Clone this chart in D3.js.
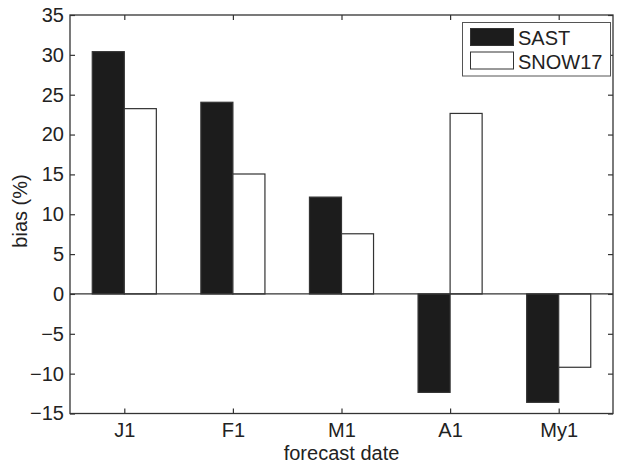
<!DOCTYPE html>
<html><head><meta charset="utf-8">
<script src="https://cdn.jsdelivr.net/npm/d3@7"></script>
<style>body{margin:0;background:#fff;} svg{display:block;} text{font-family:"Liberation Sans",Arial,sans-serif;fill:#222;}</style>
</head><body><svg id="c" width="621" height="463"></svg>
<script>
const categories = ["J1","F1","M1","A1","My1"];
const seriesNames = ["SAST","SNOW17"];
const sast = [30.4, 24.05, 12.15, -12.35, -13.6];
const snow17 = [23.25, 15.05, 7.55, 22.65, -9.2];
const yTicks = [-15,-10,-5,0,5,10,15,20,25,30,35];

const svg = d3.select("#c");
const L=70, R=613, T=15, B=413.5;
const axisColor="#333";
const FS="20px";
const x = d3.scaleLinear().domain([0.5,5.5]).range([L,R]);
const y = d3.scaleLinear().domain([-15,35]).range([B,T]);
const bw = 0.295;

const series=[{name:seriesNames[0],vals:sast,fill:"#1c1c1c",off:-bw},{name:seriesNames[1],vals:snow17,fill:"#fff",off:0}];
const g = svg.append("g");
series.forEach(s=>{
  g.selectAll(null).data(s.vals).enter().append("rect")
   .attr("x",(d,i)=>x(i+1+s.off))
   .attr("width",x(1+bw)-x(1))
   .attr("y",d=>y(Math.max(0,d)))
   .attr("height",d=>Math.abs(y(d)-y(0)))
   .attr("fill",s.fill).attr("stroke",axisColor).attr("stroke-width",1.2);
});
svg.append("line").attr("x1",L).attr("x2",R).attr("y1",y(0)).attr("y2",y(0)).attr("stroke",axisColor).attr("stroke-width",1.2);

const yAxisL = d3.axisLeft(y).tickValues(yTicks).tickSize(-5).tickPadding(6);
const yAxisR = d3.axisRight(y).tickValues(yTicks).tickSize(-5).tickFormat("");
const xAxisB = d3.axisBottom(x).tickValues([1,2,3,4,5]).tickFormat((d)=>categories[d-1]).tickSize(-5).tickPadding(9);
const xAxisT = d3.axisTop(x).tickValues([1,2,3,4,5]).tickSize(-5).tickFormat("");
function style(sel){sel.attr("font-size",null).attr("font-family",null);sel.select(".domain").remove();sel.selectAll("line").attr("stroke",axisColor).attr("stroke-width",1.2);sel.selectAll("text").style("font-size",FS).attr("fill","#222");}
svg.append("g").attr("transform",`translate(${L},0)`).call(yAxisL).call(style);
svg.append("g").attr("transform",`translate(${R},0)`).call(yAxisR).call(style);
svg.append("g").attr("transform",`translate(0,${B})`).call(xAxisB).call(style);
svg.append("g").attr("transform",`translate(0,${T})`).call(xAxisT).call(style);
svg.append("rect").attr("x",L).attr("y",T).attr("width",R-L).attr("height",B-T).attr("fill","none").attr("stroke",axisColor).attr("stroke-width",1.3);

svg.append("text").attr("x",(L+R)/2).attr("y",460).attr("text-anchor","middle").style("font-size",FS).text("forecast date");
svg.append("text").attr("transform",`translate(27,211) rotate(-90)`).attr("text-anchor","middle").style("font-size",FS).text("bias (%)");

const lg = svg.append("g");
lg.append("rect").attr("x",462.5).attr("y",22.5).attr("width",148).attr("height",53.5).attr("fill","#fff").attr("stroke","#555").attr("stroke-width",1);
series.forEach((s,i)=>{
  lg.append("rect").attr("x",470.5).attr("y",28.5+i*23.5).attr("width",43).attr("height",17).attr("fill",s.fill).attr("stroke",axisColor).attr("stroke-width",1);
  lg.append("text").attr("x",518).attr("y",45+i*23.5).style("font-size",FS).text(s.name);
});
</script></body></html>
